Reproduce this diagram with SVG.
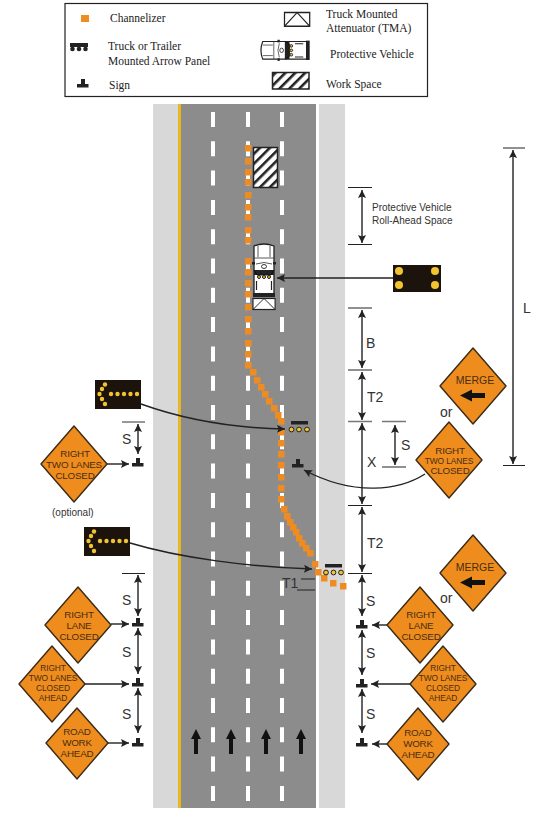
<svg xmlns="http://www.w3.org/2000/svg" xmlns:xlink="http://www.w3.org/1999/xlink" width="544" height="814" viewBox="0 0 544 814">
<style>
text{font-family:"Liberation Sans",Arial,sans-serif;fill:#2a2a2a}
.leg{font-family:"Liberation Serif","Times New Roman",serif;font-size:11.5px;fill:#222}
.dim{font-size:14px;fill:#333}
.note{font-size:10px;fill:#333}
.st{font-size:9.8px;fill:#4a2c10;text-anchor:middle;letter-spacing:-.2px}
.s4{font-size:8.4px;fill:#4a2c10;text-anchor:middle;letter-spacing:-.1px}
.sl{font-size:10.5px;fill:#4a2c10;text-anchor:middle}
.d{fill:#ee8c1e;stroke:#3a2a18;stroke-width:1.4;stroke-linejoin:round}
.ch{fill:#ee8c22}
.w{stroke:#fff;stroke-width:4;stroke-dasharray:15 14.3;fill:none}
.ar{stroke:#222;stroke-width:1.4;fill:none;marker-end:url(#h)}
.db{stroke:#222;stroke-width:1.4;fill:none;marker-start:url(#hs);marker-end:url(#h)}
.tk{stroke:#222;stroke-width:1.2}
.tg{stroke:#777;stroke-width:1.4}
.dot{fill:#f2c430}
.pd{fill:#f2c030;stroke:#222;stroke-width:1}
</style>
<defs>
<marker id="h" markerUnits="userSpaceOnUse" markerWidth="9" markerHeight="9" refX="8" refY="4" orient="auto"><path d="M0 0L8 4L0 8L1.5 4Z" fill="#222"/></marker>
<marker id="hs" markerUnits="userSpaceOnUse" markerWidth="9" markerHeight="9" refX="0" refY="4" orient="auto"><path d="M8 0L0 4L8 8L6.5 4Z" fill="#222"/></marker>
<pattern id="hatch" patternUnits="userSpaceOnUse" width="7" height="7" patternTransform="rotate(-45)"><rect width="7" height="7" fill="#fff"/><rect width="7" height="2.600" fill="#222"/></pattern>
<g id="sign"><rect x="-2" y="-5" width="4" height="5" fill="#222"/><rect x="-6" y="0" width="11.5" height="3.5" fill="#222"/></g>
<g id="tma"><rect x="0" y="0" width="24" height="11" fill="#fff" stroke="#222" stroke-width="1.2"/><path d="M0 11L12 0L24 11" fill="none" stroke="#222" stroke-width="1"/></g>
<g id="veh">
<path d="M1 3Q11 -1 21 3V52H1Z" fill="#fff" stroke="#222" stroke-width="1.3"/>
<path d="M5 3V14M17 3V14M1 15H21M3 21Q11 18 19 21" fill="none" stroke="#444" stroke-width=".9"/>
<rect x="-1" y="19" width="3" height="2.500" fill="#222"/><rect x="20" y="19" width="3" height="2.500" fill="#222"/>
<ellipse cx="11" cy="23.500" rx="2.500" ry="2" fill="#fff" stroke="#222" stroke-width=".9"/>
<rect x="1" y="27" width="20" height="5" fill="#222"/>
<path d="M1 27L4 32H18L21 27" fill="none" stroke="#111"/>
<circle cx="6" cy="34" r="1.500" class="pd"/><circle cx="11" cy="34" r="1.500" class="pd"/><circle cx="16" cy="34" r="1.500" class="pd"/>
<path d="M3.500 38V47M18.500 38V47" stroke="#222" stroke-width="1.200" fill="none"/>
<rect x="0" y="50" width="22" height="4" fill="#222"/>
</g>
<g id="panel">
<rect x="0" y="0" width="46" height="29" fill="#1c140c"/>
<circle cx="42" cy="14" r="2.2" class="dot"/><circle cx="35.500" cy="14" r="2.2" class="dot"/><circle cx="29" cy="14" r="2.2" class="dot"/><circle cx="22.500" cy="14" r="2.2" class="dot"/><circle cx="16" cy="14" r="2.2" class="dot"/>
<circle cx="10" cy="4.500" r="2.2" class="dot"/><circle cx="7" cy="9" r="2.200" class="dot"/><circle cx="4.500" cy="14" r="2.2" class="dot"/><circle cx="7" cy="19" r="2.2" class="dot"/><circle cx="10" cy="24" r="2.2" class="dot"/>
</g>
</defs>

<g id="legend">
<rect x="65" y="3.500" width="362.500" height="93" fill="#fff" stroke="#222" stroke-width="1.2"/>
<rect x="81" y="15" width="8" height="7" class="ch"/>
<text class="leg" x="110" y="22">Channelizer</text>
<rect x="70" y="43" width="18" height="4" fill="#222"/><circle cx="72.500" cy="49" r="2.300" fill="#222"/><circle cx="79" cy="49" r="2.300" fill="#222"/><circle cx="85.500" cy="49" r="2.300" fill="#222"/>
<text class="leg" x="108" y="50">Truck or Trailer</text>
<text class="leg" x="108" y="65">Mounted Arrow Panel</text>
<use xlink:href="#sign" href="#sign" x="83" y="84"/>
<text class="leg" x="109" y="89">Sign</text>
<use xlink:href="#tma" href="#tma" transform="translate(284.500 12.500) scale(1.05 1.25)"/>
<text class="leg" x="326" y="18">Truck Mounted</text>
<text class="leg" x="326" y="32">Attenuator (TMA)</text>
<use xlink:href="#veh" href="#veh" transform="translate(260 60) rotate(-90) scale(.88 .92)"/>
<text class="leg" x="330" y="58">Protective Vehicle</text>
<rect x="272.500" y="72.500" width="36.500" height="16.500" fill="url(#hatch)" stroke="#222" stroke-width="1.500"/>
<text class="leg" x="326" y="88">Work Space</text>
</g>

<g id="road">
<rect x="153" y="104" width="192" height="704" fill="#d8d8d8"/>
<rect x="178" y="104" width="3" height="704" fill="#e8b820"/>
<rect x="181" y="104" width="135" height="704" fill="#8c8c8c"/>
<rect x="316" y="104" width="3" height="704" fill="#fff"/>
<path class="w" d="M213 112V808M248 112V808M282 112V808"/>
</g>

<g id="lane-arrows" fill="#111">
<path d="M196 729l-5 10h3v15h4v-15h3zM231 729l-5 10h3v15h4v-15h3zM266 729l-5 10h3v15h4v-15h3zM301 729l-5 10h3v15h4v-15h3z"/>
</g>

<g id="work-space"><rect x="253.500" y="147.500" width="24" height="40" fill="url(#hatch)" stroke="#222" stroke-width="1.500"/></g>

<g id="channelizers" class="ch">
<rect x="245" y="145" width="6.500" height="6.500"/><rect x="245" y="158" width="6.500" height="6.500"/><rect x="245" y="169" width="6.500" height="6.500"/><rect x="245" y="179" width="6.500" height="6.500"/><rect x="245" y="192" width="6.500" height="6.500"/><rect x="245" y="204" width="6.500" height="6.500"/><rect x="245" y="214" width="6.500" height="6.500"/><rect x="245" y="227" width="6.500" height="6.500"/><rect x="245" y="237" width="6.500" height="6.500"/><rect x="245" y="258" width="6.500" height="6.500"/><rect x="245" y="269" width="6.500" height="6.500"/><rect x="245" y="280" width="6.500" height="6.500"/><rect x="245" y="291" width="6.500" height="6.500"/><rect x="245" y="304" width="6.500" height="6.500"/><rect x="245" y="316" width="6.500" height="6.500"/><rect x="245" y="328" width="6.500" height="6.500"/><rect x="245" y="340" width="6.500" height="6.500"/><rect x="245" y="351" width="6.500" height="6.500"/><rect x="245" y="362" width="6.500" height="6.500"/>
<rect x="250" y="369" width="6.500" height="6.500"/><rect x="254" y="377" width="6.500" height="6.500"/><rect x="258" y="384" width="6.500" height="6.500"/><rect x="262" y="391" width="6.500" height="6.500"/><rect x="266" y="398" width="6.500" height="6.500"/><rect x="271" y="405" width="6.500" height="6.500"/><rect x="275" y="412" width="6.500" height="6.500"/>
<rect x="278" y="418" width="6.500" height="6.500"/><rect x="278" y="429" width="6.500" height="6.500"/><rect x="278" y="440" width="6.500" height="6.500"/><rect x="278" y="451" width="6.500" height="6.500"/><rect x="278" y="462" width="6.500" height="6.500"/><rect x="278" y="474" width="6.500" height="6.500"/><rect x="278" y="485" width="6.500" height="6.500"/><rect x="278" y="496" width="6.500" height="6.500"/>
<rect x="281" y="506" width="6.500" height="6.500"/><rect x="284" y="513" width="6.500" height="6.500"/><rect x="287" y="519" width="6.500" height="6.500"/><rect x="290" y="524" width="6.500" height="6.500"/><rect x="293" y="529" width="6.500" height="6.500"/><rect x="296" y="535" width="6.500" height="6.500"/><rect x="299" y="540" width="6.500" height="6.500"/><rect x="303" y="545" width="6.500" height="6.500"/><rect x="307" y="550" width="6.500" height="6.500"/><rect x="312" y="561" width="6.500" height="6.500"/><rect x="315" y="569" width="6.500" height="6.500"/><rect x="321" y="575" width="6.500" height="6.500"/><rect x="330" y="580" width="6.500" height="6.500"/><rect x="340" y="583" width="6.500" height="6.500"/>
</g>

<g id="protective-vehicle"><use xlink:href="#veh" href="#veh" transform="translate(253 243)"/></g>
<g id="tma-truck"><use xlink:href="#tma" href="#tma" transform="translate(253 298.500) scale(.92 1)"/></g>

<g id="arrow-panel-truck-1">
<rect x="291" y="421" width="17" height="3.500" fill="#222"/><circle cx="291.500" cy="429.500" r="2.400" class="pd"/><circle cx="299" cy="429.500" r="2.400" class="pd"/><circle cx="307" cy="429.500" r="2.400" class="pd"/>
</g>
<g id="arrow-panel-truck-2">
<rect x="325" y="564" width="17" height="3.500" fill="#222"/><circle cx="326" cy="572.500" r="2.400" class="pd"/><circle cx="333.500" cy="572.500" r="2.400" class="pd"/><circle cx="341" cy="572.500" r="2.400" class="pd"/>
</g>

<g id="panel-flashing"><rect x="393" y="265" width="48" height="27" fill="#1c140c"/><circle cx="399" cy="271" r="4" class="dot"/><circle cx="435" cy="271" r="4" class="dot"/><circle cx="399" cy="285" r="4" class="dot"/><circle cx="435" cy="285" r="4" class="dot"/></g>
<g id="panel-arrow-1"><use xlink:href="#panel" href="#panel" x="95" y="380"/></g>
<g id="panel-arrow-2"><use xlink:href="#panel" href="#panel" x="84" y="527"/></g>

<g id="sign-markers">
<use xlink:href="#sign" href="#sign" x="138" y="463"/><use xlink:href="#sign" href="#sign" x="138" y="623"/><use xlink:href="#sign" href="#sign" x="138" y="683"/><use xlink:href="#sign" href="#sign" x="138" y="743"/>
<use xlink:href="#sign" href="#sign" x="362" y="625"/><use xlink:href="#sign" href="#sign" x="362" y="684"/><use xlink:href="#sign" href="#sign" x="362" y="743"/><use xlink:href="#sign" href="#sign" x="298" y="464"/>
</g>

<g id="connectors">
<path class="ar" d="M393 278H277"/>
<path class="ar" d="M141 404C180 418 230 428 285 429"/>
<path class="ar" d="M130 543C180 558 250 567 312 569"/>
<path class="ar" d="M425 474C400 490 355 497 304 470"/>
<path class="ar" d="M107 464H129"/><path class="ar" d="M111 624H129"/><path class="ar" d="M85 684H129"/><path class="ar" d="M108 743H129"/>
<path class="ar" d="M387 625H372"/><path class="ar" d="M410 684H371"/><path class="ar" d="M387 744H372"/>
</g>

<g id="dimensions">
<path class="tk" d="M348 187.500H372M348 244.500H372M348 308H372M348 370H372M348 505.500H372M348 573.500H372M382 467H406M122 573.500H145M503 465.500H525M503 148H525"/>
<path class="tg" d="M348 421.500H372M382 421.500H406M122 422H145"/>
<path class="db" d="M362 190V243"/><path class="db" d="M362 310V368"/><path class="db" d="M362 372V420"/><path class="db" d="M362 423V504"/><path class="db" d="M362 507V572"/>
<path class="db" d="M362 575V616"/><path class="db" d="M362 630V675"/><path class="db" d="M362 689V733"/>
<path class="db" d="M395 425V465"/>
<path class="db" d="M138 424V454"/><path class="db" d="M138 575V616"/><path class="db" d="M138 628V674"/><path class="db" d="M138 688V733"/>
<path class="db" d="M513 150V464"/>
<path class="tk" d="M301 579H315M297 590H315"/>
<text class="dim" x="366" y="348">B</text><text class="dim" x="367" y="402">T2</text><text class="dim" x="367" y="548">T2</text><text class="dim" x="367" y="467">X</text>
<text class="dim" x="401" y="450">S</text><text class="dim" x="366" y="606">S</text><text class="dim" x="366" y="658">S</text><text class="dim" x="366" y="719">S</text>
<text class="dim" x="122" y="444">S</text><text class="dim" x="122" y="605">S</text><text class="dim" x="122" y="657">S</text><text class="dim" x="122" y="719">S</text>
<text class="dim" x="523" y="313">L</text><text class="dim" x="282" y="588">T1</text>
<text class="note" x="372" y="211">Protective Vehicle</text><text class="note" x="372" y="224">Roll-Ahead Space</text>
<text class="note" x="52" y="516">(optional)</text>
<text class="dim" x="440" y="417">or</text><text class="dim" x="440" y="603">or</text>
</g>

<g id="sign-merge-1"><path class="d" d="M473 348L506 386L473 424L440 386Z"/><text class="sl" x="475" y="384">MERGE</text><path d="M460 395.500L472 389.500V393H485V398H472V401.500Z" fill="#111"/></g>
<g id="sign-merge-2"><path class="d" d="M473 535L506 573L473 611L440 573Z"/><text class="sl" x="475" y="571">MERGE</text><path d="M460 582.500L472 576.500V580H485V585H472V588.500Z" fill="#111"/></g>
<g id="sign-right-two-closed"><path class="d" d="M449 422L482 460L449 498L416 460Z"/><text class="st" x="450" y="454">RIGHT</text><text class="s4" x="449" y="464">TWO LANES</text><text class="st" x="450" y="474">CLOSED</text></g>
<g id="sign-optional"><path class="d" d="M74 426L107 464L74 502L41 464Z"/><text class="st" x="75" y="457">RIGHT</text><text class="st" x="74" y="468">TWO LANES</text><text class="st" x="75" y="479">CLOSED</text></g>
<g id="sign-left-lane"><path class="d" d="M78 587L111 625L78 663L45 625Z"/><text class="st" x="79" y="618">RIGHT</text><text class="st" x="79" y="629">LANE</text><text class="st" x="79" y="640">CLOSED</text></g>
<g id="sign-left-ahead"><path class="d" d="M52 646L85 684L52 722L19 684Z"/><text class="s4" x="53" y="671">RIGHT</text><text class="s4" x="53" y="681">TWO LANES</text><text class="s4" x="53" y="691">CLOSED</text><text class="s4" x="53" y="701">AHEAD</text></g>
<g id="sign-left-road"><path class="d" d="M77 708L108 743L77 779L46 743Z"/><text class="st" x="77" y="735">ROAD</text><text class="st" x="77" y="746">WORK</text><text class="st" x="77" y="757">AHEAD</text></g>
<g id="sign-right-lane"><path class="d" d="M420 587L453 625L420 663L387 625Z"/><text class="st" x="421" y="618">RIGHT</text><text class="st" x="421" y="629">LANE</text><text class="st" x="421" y="640">CLOSED</text></g>
<g id="sign-right-ahead"><path class="d" d="M443 646L476 684L443 722L410 684Z"/><text class="s4" x="443" y="671">RIGHT</text><text class="s4" x="443" y="681">TWO LANES</text><text class="s4" x="443" y="691">CLOSED</text><text class="s4" x="443" y="701">AHEAD</text></g>
<g id="sign-right-road"><path class="d" d="M418 708L449 744L418 780L387 744Z"/><text class="st" x="418" y="736">ROAD</text><text class="st" x="418" y="747">WORK</text><text class="st" x="418" y="758">AHEAD</text></g>
</svg>
